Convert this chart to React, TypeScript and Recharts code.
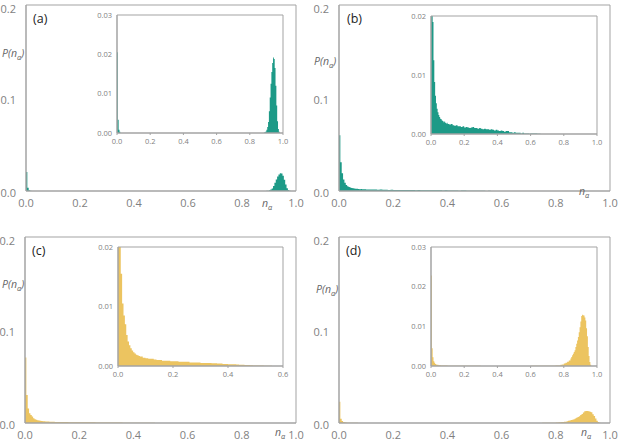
import React from "react";
import { AreaChart, Area, XAxis, YAxis, ReferenceArea } from "recharts";

type Pt = [number, number]; // [left edge of bin, P(n)]

const TEAL = "#1d9a87";
const YELLOW = "#ecc460";
const AXIS = "#a3a3a3";
const TICK = "#7f7f7f";
const FONT = "'Open Sans', 'Liberation Sans', sans-serif";

const mainXTicks = [0, 0.2, 0.4, 0.6, 0.8, 1.0];
const mainYTicks = [0, 0.1, 0.2];
const insetXTicks = [0, 0.2, 0.4, 0.6, 0.8, 1.0];
const insetXTicksC = [0, 0.2, 0.4, 0.6];
const insetYTicks3 = [0, 0.01, 0.02, 0.03];
const insetYTicks2 = [0, 0.01, 0.02];

// (a) spike at 0 and a narrow peak near 0.94
const seriesA: Pt[] = [
  [0, 0.0205], [0.005, 0.0034], [0.01, 0.0008], [0.015, 0.0003], [0.02, 0],
  [0.885, 0.0001], [0.89, 0.0002], [0.895, 0.0004], [0.9, 0.0008], [0.905, 0.0015],
  [0.91, 0.0028], [0.915, 0.0055], [0.92, 0.009], [0.925, 0.0125], [0.93, 0.0155],
  [0.935, 0.0178], [0.94, 0.0192], [0.945, 0.0188], [0.95, 0.0165], [0.955, 0.012],
  [0.96, 0.007], [0.965, 0.003], [0.97, 0.001], [0.975, 0.0003], [0.98, 0], [1, 0],
];

// (b) decaying tail
const seriesB: Pt[] = [
  [0, 0.06], [0.005, 0.031], [0.01, 0.019], [0.015, 0.0125], [0.02, 0.0088],
  [0.025, 0.0065], [0.03, 0.0052], [0.035, 0.0043], [0.04, 0.0037], [0.045, 0.0032],
  [0.05, 0.0029], [0.055, 0.0026], [0.06, 0.0025], [0.065, 0.0023], [0.07, 0.0022],
  [0.075, 0.002], [0.08, 0.0021], [0.085, 0.0019], [0.09, 0.0018], [0.095, 0.0019],
  [0.1, 0.0017], [0.11, 0.0016], [0.12, 0.0017], [0.13, 0.0015], [0.14, 0.0014],
  [0.15, 0.0015], [0.16, 0.0013], [0.17, 0.0013], [0.18, 0.0012], [0.19, 0.0013],
  [0.2, 0.0011], [0.21, 0.0012], [0.22, 0.0011], [0.23, 0.001], [0.24, 0.0011],
  [0.25, 0.0012], [0.26, 0.001], [0.27, 0.001], [0.28, 0.0009], [0.29, 0.001],
  [0.3, 0.0009], [0.31, 0.0008], [0.32, 0.0009], [0.33, 0.0008], [0.34, 0.0008],
  [0.35, 0.0007], [0.36, 0.0008], [0.37, 0.0007], [0.38, 0.0006], [0.39, 0.0007],
  [0.4, 0.0006], [0.41, 0.0005], [0.42, 0.0006], [0.43, 0.0005], [0.44, 0.0004],
  [0.45, 0.0005], [0.46, 0.0005], [0.47, 0.0003], [0.48, 0.0003], [0.49, 0.0002],
  [0.5, 0.0003], [0.51, 0.0002], [0.52, 0.0002], [0.53, 0.0002], [0.54, 0.0001],
  [0.55, 0.0002], [0.56, 0.0001], [0.57, 0.0001], [0.58, 0.0001], [0.59, 0.00005],
  [0.6, 0.0001], [0.62, 0.0001], [0.64, 0.00005], [0.66, 0], [1, 0],
];

// (c) decaying tail, steeper
const seriesC: Pt[] = [
  [0, 0.0705], [0.005, 0.03], [0.01, 0.0155], [0.015, 0.0105], [0.02, 0.0085],
  [0.025, 0.007], [0.03, 0.0052], [0.035, 0.0041], [0.04, 0.0035], [0.045, 0.003],
  [0.05, 0.0026], [0.055, 0.0023], [0.06, 0.0021], [0.065, 0.0019], [0.07, 0.0018],
  [0.075, 0.0017], [0.08, 0.0016], [0.085, 0.0016], [0.09, 0.0014], [0.095, 0.0014],
  [0.1, 0.0013], [0.11, 0.0012], [0.12, 0.0012], [0.13, 0.0011], [0.14, 0.001],
  [0.15, 0.001], [0.16, 0.0009], [0.17, 0.0009], [0.18, 0.0009], [0.19, 0.0008],
  [0.2, 0.0008], [0.21, 0.0008], [0.22, 0.0007], [0.23, 0.0007], [0.24, 0.0007],
  [0.25, 0.0007], [0.26, 0.0006], [0.27, 0.0006], [0.28, 0.0006], [0.29, 0.0006],
  [0.3, 0.0005], [0.31, 0.0005], [0.32, 0.0005], [0.33, 0.0005], [0.34, 0.00045],
  [0.35, 0.00045], [0.36, 0.0004], [0.37, 0.0004], [0.38, 0.00035], [0.39, 0.00035],
  [0.4, 0.0003], [0.41, 0.0003], [0.42, 0.00028], [0.43, 0.00025], [0.44, 0.0002],
  [0.45, 0.0002], [0.46, 0.00015], [0.47, 0.00015], [0.48, 0.00012], [0.49, 0.0001],
  [0.5, 0.0001], [0.51, 0.00008], [0.52, 0.00008], [0.53, 0.00006], [0.54, 0.00005],
  [0.55, 0.00003], [0.56, 0], [1, 0],
];

// (d) spike at 0 and a broader peak near 0.91
const seriesD: Pt[] = [
  [0, 0.0228], [0.005, 0.0045], [0.01, 0.0022], [0.015, 0.0012], [0.02, 0.0008],
  [0.025, 0.0005], [0.03, 0.0004], [0.035, 0.0003], [0.04, 0.0003], [0.045, 0.0002],
  [0.05, 0.0002], [0.06, 0.00015], [0.07, 0.0001], [0.08, 0.0001], [0.1, 0.00008],
  [0.12, 0.00006], [0.15, 0.00005], [0.2, 0.00004], [0.3, 0.00003], [0.4, 0.00003],
  [0.5, 0.00003], [0.6, 0.00004], [0.7, 0.00008], [0.75, 0.00015],
  [0.78, 0.0003], [0.79, 0.0004], [0.8, 0.0006], [0.81, 0.0008], [0.82, 0.0011],
  [0.83, 0.0014], [0.84, 0.0019], [0.845, 0.0023], [0.85, 0.0027], [0.855, 0.0031],
  [0.86, 0.0035], [0.865, 0.004], [0.87, 0.0048], [0.875, 0.0056], [0.88, 0.0064],
  [0.885, 0.0073], [0.89, 0.0085], [0.895, 0.0098], [0.9, 0.0112], [0.905, 0.0126],
  [0.91, 0.0129], [0.915, 0.0128], [0.92, 0.0127], [0.925, 0.0122], [0.93, 0.0115],
  [0.935, 0.0095], [0.94, 0.0075], [0.945, 0.0048], [0.95, 0.0025], [0.955, 0.001],
  [0.96, 0.0003], [0.965, 0], [1, 0],
];

type Box = { x: number; y: number; w: number; h: number };

// main y tick: the top label is nudged down so it stays inside the page
function MainYTick(props: any) {
  const { x, y, payload, yMax } = props;
  const top = payload.value >= yMax;
  return (
    <text
      x={x}
      y={y + (top ? 3 : 1)}
      textAnchor="end"
      dominantBaseline="central"
      fill={TICK}
      fontSize={11}
      fontFamily={FONT}
    >
      {Number(payload.value).toFixed(1)}
    </text>
  );
}

function Hist(props: {
  box: Box;
  data: Pt[];
  color: string;
  xMax: number;
  xTicks: number[];
  yMax: number;
  yTicks: number[];
  inset?: boolean;
}) {
  const { box, data, color, xMax, xTicks, yMax, yTicks, inset } = props;
  const padL = inset ? 30 : 26;
  const padR = 10;
  const padT = 12;
  const padB = inset ? 20 : 30;
  const rows = data.map(([x, p]) => ({ x, p }));
  const fs = inset ? 7.5 : 11;
  const tick = { fill: TICK, fontSize: fs, fontFamily: FONT };

  return (
    <div style={{ position: "absolute", left: box.x - padL, top: box.y - padT }}>
      <AreaChart
        width={box.w + padL + padR}
        height={box.h + padT + padB}
        data={rows}
        margin={{ top: padT, right: padR, bottom: 0, left: 0 }}
      >
        <XAxis
          dataKey="x"
          type="number"
          domain={[0, xMax]}
          ticks={xTicks}
          interval={0}
          allowDataOverflow
          height={padB}
          stroke={AXIS}
          tick={tick}
          tickLine={inset ? { stroke: AXIS } : false}
          tickSize={inset ? 2 : 0}
          tickMargin={inset ? 4 : 8}
          tickFormatter={(v: number) => v.toFixed(1)}
        />
        <YAxis
          type="number"
          domain={[0, yMax]}
          ticks={yTicks}
          interval={0}
          allowDataOverflow
          width={padL}
          stroke={AXIS}
          tick={inset ? tick : (p: any) => <MainYTick {...p} yMax={yMax} />}
          tickLine={false}
          tickSize={0}
          tickMargin={inset ? 5 : 10}
          tickFormatter={(v: number) => v.toFixed(inset ? 2 : 1)}
        />
        <Area
          type="stepAfter"
          dataKey="p"
          stroke="none"
          fill={color}
          fillOpacity={1}
          dot={false}
          activeDot={false}
          isAnimationActive={false}
        />
        <ReferenceArea
          x1={0}
          x2={xMax}
          y1={0}
          y2={yMax}
          fill="none"
          stroke={AXIS}
          strokeWidth={1}
          ifOverflow="visible"
        />
      </AreaChart>
    </div>
  );
}

function Txt(props: { x: number; cy: number; size: number; color: string; italic?: boolean; children: React.ReactNode }) {
  return (
    <div
      style={{
        position: "absolute",
        left: props.x,
        top: props.cy - props.size * 0.7,
        fontSize: props.size,
        lineHeight: `${props.size * 1.4}px`,
        color: props.color,
        fontStyle: props.italic ? "italic" : "normal",
        fontFamily: FONT,
        whiteSpace: "nowrap",
      }}
    >
      {props.children}
    </div>
  );
}

const Pn = () => (
  <>
    P(n<sub style={{ fontSize: "0.7em" }}>α</sub>)
  </>
);
const Na = () => (
  <>
    n<sub style={{ fontSize: "0.7em" }}>α</sub>
  </>
);

export default function App() {
  return (
    <div style={{ position: "absolute", left: 0, top: 0, width: 618, height: 444, background: "#fff", overflow: "hidden" }}>
      {/* (a) */}
      <Hist box={{ x: 26, y: 5, w: 270, h: 186 }} data={seriesA} color={TEAL} xMax={1} xTicks={mainXTicks} yMax={0.2} yTicks={mainYTicks} />
      <Hist box={{ x: 117, y: 15, w: 166, h: 118 }} data={seriesA} color={TEAL} xMax={1} xTicks={insetXTicks} yMax={0.03} yTicks={insetYTicks3} inset />
      {/* (b) */}
      <Hist box={{ x: 339, y: 5, w: 271, h: 186 }} data={seriesB} color={TEAL} xMax={1} xTicks={mainXTicks} yMax={0.2} yTicks={mainYTicks} />
      <Hist box={{ x: 431, y: 16, w: 166, h: 118 }} data={seriesB} color={TEAL} xMax={1} xTicks={insetXTicks} yMax={0.02} yTicks={insetYTicks2} inset />
      {/* (c) */}
      <Hist box={{ x: 25, y: 237, w: 271, h: 186 }} data={seriesC} color={YELLOW} xMax={1} xTicks={mainXTicks} yMax={0.2} yTicks={mainYTicks} />
      <Hist box={{ x: 118, y: 247, w: 165, h: 119 }} data={seriesC} color={YELLOW} xMax={0.6} xTicks={insetXTicksC} yMax={0.02} yTicks={insetYTicks2} inset />
      {/* (d) */}
      <Hist box={{ x: 339, y: 237, w: 271, h: 186 }} data={seriesD} color={YELLOW} xMax={1} xTicks={mainXTicks} yMax={0.2} yTicks={mainYTicks} />
      <Hist box={{ x: 431, y: 247, w: 166, h: 119 }} data={seriesD} color={YELLOW} xMax={1} xTicks={insetXTicks} yMax={0.03} yTicks={insetYTicks3} inset />

      <Txt x={33} cy={19} size={12.5} color="#222">(a)</Txt>
      <Txt x={347} cy={19} size={12.5} color="#222">(b)</Txt>
      <Txt x={32} cy={251} size={12.5} color="#222">(c)</Txt>
      <Txt x={346} cy={251} size={12.5} color="#222">(d)</Txt>

      <Txt x={2} cy={53} size={10.5} color="#666" italic><Pn /></Txt>
      <Txt x={314} cy={61} size={10.5} color="#666" italic><Pn /></Txt>
      <Txt x={2} cy={284} size={10.5} color="#666" italic><Pn /></Txt>
      <Txt x={316} cy={289} size={10.5} color="#666" italic><Pn /></Txt>

      <Txt x={262} cy={203} size={10.5} color="#666" italic><Na /></Txt>
      <Txt x={579} cy={191} size={10.5} color="#666" italic><Na /></Txt>
      <Txt x={275} cy={432} size={10.5} color="#666" italic><Na /></Txt>
      <Txt x={581} cy={432} size={10.5} color="#666" italic><Na /></Txt>
    </div>
  );
}
